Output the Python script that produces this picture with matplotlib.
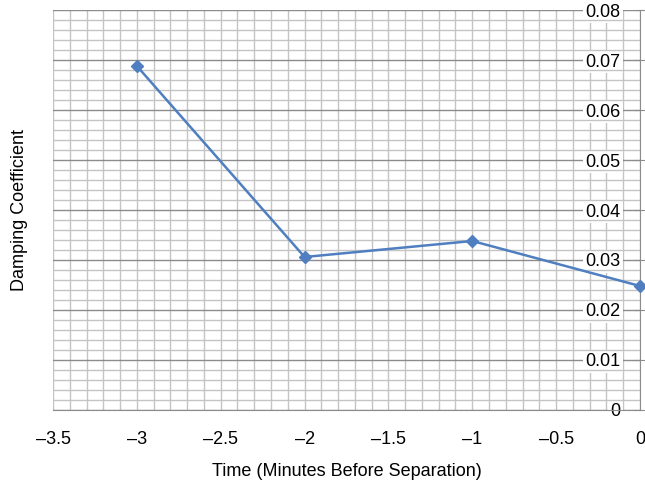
import numpy as np
import matplotlib.pyplot as plt
from matplotlib.ticker import MultipleLocator

plt.rcParams['font.family'] = ['Liberation Sans', 'DejaVu Sans']

# Data
minutes = [-3, -2, -1, 0]
damping = [0.0688, 0.0306, 0.0338, 0.0248]

fig = plt.figure(figsize=(6.45, 4.86), dpi=100)
ax = fig.add_axes([0.0822, 0.1564, 0.9100, 0.8230])

ax.plot(minutes, damping, color="#4F7FC0", linewidth=1.8,
        marker="D", markersize=6.5, markerfacecolor="#4F7FC0",
        markeredgecolor="#4F7FC0", zorder=5, clip_on=False)

ax.set_xlim(-3.5, 0)
ax.set_ylim(0, 0.08)

ax.xaxis.set_major_locator(MultipleLocator(0.5))
ax.xaxis.set_minor_locator(MultipleLocator(0.1))
ax.yaxis.set_major_locator(MultipleLocator(0.01))
ax.yaxis.set_minor_locator(MultipleLocator(0.002))

ax.grid(which="minor", color="#c4c4c4", linewidth=1.0)
ax.grid(which="major", axis="x", color="#c4c4c4", linewidth=1.0)
ax.grid(which="major", axis="y", color="#8c8c8c", linewidth=1.0)
ax.set_axisbelow(True)

for side in ["top", "right"]:
    ax.spines[side].set_visible(False)
ax.spines["bottom"].set_color("#8c8c8c")
ax.spines["left"].set_position(("data", 0))
ax.spines["left"].set_color("#8c8c8c")

ax.tick_params(axis="x", which="both", length=0, pad=15, labelsize=13)
ax.tick_params(axis="y", which="minor", length=0)
ax.tick_params(axis="y", which="major", direction="inout", length=8,
               color="#8c8c8c", pad=10, labelsize=13)

ax.set_yticks(np.arange(0, 0.081, 0.01))
ax.set_yticklabels(["0"] + ["%.2f" % v for v in np.arange(0.01, 0.081, 0.01)])
for lab in ax.get_yticklabels():
    lab.set_bbox(dict(facecolor="white", edgecolor="none", pad=1.5))
    lab.set_zorder(6)

ax.set_xticks(np.arange(-3.5, 0.01, 0.5))
ax.set_xticklabels(["\u20133.5", "\u20133", "\u20132.5", "\u20132", "\u20131.5",
                    "\u20131", "\u20130.5", "0"])

ax.set_xlabel("Time (Minutes Before Separation)", fontsize=13, labelpad=11)
ax.set_ylabel("Damping Coefficient", fontsize=13)
ax.yaxis.set_label_coords(-0.042, 0.5)

fig.savefig("out.png", dpi=100)
